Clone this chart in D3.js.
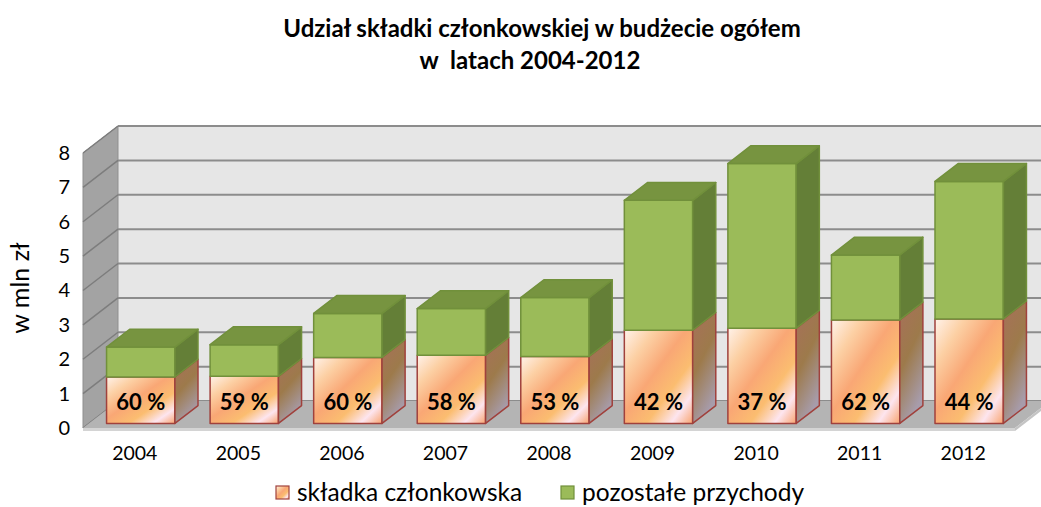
<!DOCTYPE html>
<html>
<head>
<meta charset="utf-8">
<script src="https://cdn.jsdelivr.net/npm/d3@7"></script>
<style>
  body { margin: 0; background: #fff; }
  svg { font-family: Lato, "Open Sans", sans-serif; }
</style>
</head>
<body>
<div id="chart"></div>
<script>
// Data
const years = ["2004", "2005", "2006", "2007", "2008", "2009", "2010", "2011", "2012"];
const skladka = [1.35, 1.37, 1.92, 1.98, 1.95, 2.71, 2.77, 3.01, 3.04];
const pozostale = [0.87, 0.92, 1.28, 1.36, 1.71, 3.78, 4.79, 1.89, 4.00];
const shares = ["60 %", "59 %", "60 %", "58 %", "53 %", "42 %", "37 %", "62 %", "44 %"];
const yTicks = [0, 1, 2, 3, 4, 5, 6, 7, 8];

const width = 1041, height = 507;

// oblique depth of the 3D box
const DX = 35, DY = 27;
const P = (x, y, d) => [x + d * DX, y - d * DY];

const svg = d3.select('#chart')
    .append('svg')
    .attr('width', width)
    .attr('height', height);

const xScale = d3.scaleBand().domain(years).range([83, 1015]).padding(0);
const yScale = d3.scaleLinear().domain([0, 8]).range([428, 153]);

const x0 = xScale.range()[0], x1 = xScale.range()[1];
const yb = yScale(0), yt = yScale(8);

// Gradients
const defs = svg.append('defs');
const gFront = defs.append('linearGradient').attr('id', 'orangeFront')
    .attr('x1', 0).attr('y1', 0).attr('x2', 1).attr('y2', 1);
[[0, '#fff2ea'], [0.22, '#fcd0a4'], [0.45, '#f9a775'], [0.66, '#fbbd70'], [0.84, '#fde5ef'], [1, '#f8a46f']]
    .forEach(s => gFront.append('stop').attr('offset', s[0]).attr('stop-color', s[1]));
const gSide = defs.append('linearGradient').attr('id', 'orangeSide')
    .attr('x1', 0).attr('y1', 0).attr('x2', 0.4).attr('y2', 1);
[[0, '#a7705a'], [0.5, '#9d7a4b'], [1, '#a79cab']]
    .forEach(s => gSide.append('stop').attr('offset', s[0]).attr('stop-color', s[1]));

const poly = pts => pts.map(p => p.join(',')).join(' ');

// Walls
svg.append('polygon')
    .attr('points', poly([P(x0, yb, 1), P(x0, yt, 1), P(x1, yt, 1), P(x1, yb, 1)]))
    .attr('fill', '#e6e6e6');
svg.append('polygon')
    .attr('points', poly([P(x0, yb, 0), P(x0, yt, 0), P(x0, yt, 1), P(x0, yb, 1)]))
    .attr('fill', '#a3a3a3')
    .attr('stroke', '#8f8f8f');

// Gridlines
yTicks.forEach(t => {
    const y = yScale(t);
    svg.append('line')
        .attr('x1', P(x0, y, 1)[0]).attr('y1', P(x0, y, 1)[1])
        .attr('x2', P(x1, y, 1)[0]).attr('y2', P(x1, y, 1)[1])
        .attr('stroke', '#8c8c8c').attr('stroke-width', 2);
    svg.append('line')
        .attr('x1', P(x0, y, 0)[0]).attr('y1', P(x0, y, 0)[1])
        .attr('x2', P(x0, y, 1)[0]).attr('y2', P(x0, y, 1)[1])
        .attr('stroke', '#7d7d7d').attr('stroke-width', 1.5);
});

// Floor
svg.append('polygon')
    .attr('points', poly([P(x0, yb, 0), P(x1, yb, 0), P(x1, yb, 1), P(x0, yb, 1)]))
    .attr('fill', '#b4b4b4');
svg.append('polygon')
    .attr('points', poly([[x0, yb], [x1, yb], [x1, yb + 3], [x0, yb + 3]]))
    .attr('fill', '#d4d4d4');
svg.append('polygon')
    .attr('points', poly([[x1, yb], P(x1, yb, 1), [P(x1, yb, 1)[0], P(x1, yb, 1)[1] + 3], [x1, yb + 3]]))
    .attr('fill', '#c4c4c4');

// Bars
const bw = xScale.bandwidth() * 0.66;
const d0 = 0.17, d1 = 0.83;

function box(g, xl, v0, v1, front, side, top, stroke, drawTop) {
    const xr = xl + bw;
    const ya = yScale(v0), yz = yScale(v1);
    g.append('polygon')
        .attr('points', poly([P(xl, ya, d0), P(xr, ya, d0), P(xr, yz, d0), P(xl, yz, d0)]))
        .attr('fill', front).attr('stroke', stroke).attr('stroke-width', 1.5)
        .attr('stroke-linejoin', 'round');
    g.append('polygon')
        .attr('points', poly([P(xr, ya, d0), P(xr, ya, d1), P(xr, yz, d1), P(xr, yz, d0)]))
        .attr('fill', side).attr('stroke', stroke).attr('stroke-width', 1.5)
        .attr('stroke-linejoin', 'round');
    if (drawTop) {
        g.append('polygon')
            .attr('points', poly([P(xl, yz, d0), P(xr, yz, d0), P(xr, yz, d1), P(xl, yz, d1)]))
            .attr('fill', top).attr('stroke', stroke).attr('stroke-width', 1.5)
            .attr('stroke-linejoin', 'round');
    }
}

years.forEach((yr, i) => {
    const g = svg.append('g');
    const xl = xScale(yr) + (xScale.bandwidth() - bw) / 2;
    box(g, xl, 0, skladka[i], 'url(#orangeFront)', 'url(#orangeSide)', '#f79646', '#a0413c', false);
    box(g, xl, skladka[i], skladka[i] + pozostale[i], '#9bbb59', '#647f37', '#779440', '#71903b', true);
    const c = P(xl + bw / 2, yScale(0), d0);
    g.append('text')
        .attr('x', c[0])
        .attr('y', c[1] - 19)
        .attr('text-anchor', 'middle')
        .attr('dominant-baseline', 'middle')
        .attr('font-size', 22)
        .attr('font-weight', 'bold')
        .attr('fill', '#000')
        .text(shares[i]);
});

// Y axis
const yAxis = svg.append('g')
    .attr('transform', `translate(${x0 - 10},0)`)
    .call(d3.axisLeft(yScale).tickValues(yTicks).tickSize(0).tickFormat(d3.format('d')));
yAxis.select('.domain').remove();
yAxis.selectAll('text').attr('font-size', 20).attr('font-family', 'Lato, sans-serif').attr('fill', '#000');

// X axis
const xAxis = svg.append('g')
    .attr('transform', `translate(0,${yb + 15})`)
    .call(d3.axisBottom(xScale).tickSize(0));
xAxis.select('.domain').remove();
xAxis.selectAll('text').attr('font-size', 19.5).attr('font-family', 'Lato, sans-serif').attr('fill', '#000');

// Axis title
svg.append('text')
    .attr('transform', 'translate(29,288) rotate(-90)')
    .attr('text-anchor', 'middle')
    .attr('font-size', 25)
    .text('w mln zł');

// Title
const title = svg.append('text')
    .attr('text-anchor', 'middle')
    .attr('font-size', 24)
    .attr('font-weight', 'bold');
title.append('tspan').attr('x', 542).attr('y', 37).text('Udział składki członkowskiej w budżecie ogółem');
title.append('tspan').attr('x', 530).attr('y', 69).attr('xml:space', 'preserve').text('w  latach 2004-2012');

// Legend
const legendItems = [
    { label: 'składka członkowska', fill: 'url(#orangeFront)', stroke: '#a0413c', x: 276 },
    { label: 'pozostałe przychody', fill: '#9bbb59', stroke: '#71903b', x: 561 }
];
const legend = svg.append('g');
legendItems.forEach(it => {
    legend.append('rect')
        .attr('x', it.x).attr('y', 486).attr('width', 13).attr('height', 13)
        .attr('fill', it.fill).attr('stroke', it.stroke).attr('stroke-width', 1.2);
    legend.append('text')
        .attr('x', it.x + 21).attr('y', 501)
        .attr('font-size', 24.5)
        .text(it.label);
});
</script>
</body>
</html>
